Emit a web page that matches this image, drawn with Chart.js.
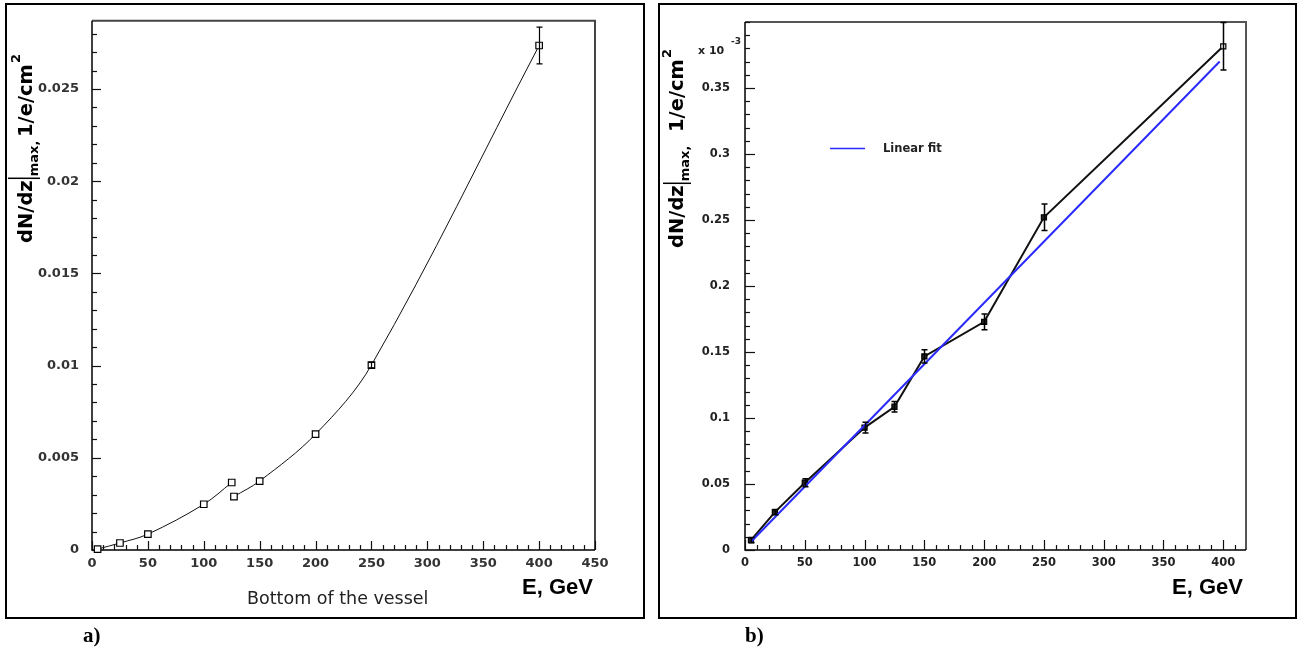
<!DOCTYPE html>
<html><head><meta charset="utf-8">
<script src="https://cdn.jsdelivr.net/npm/chart.js@4.4.1/dist/chart.umd.min.js"></script>
<style>
html,body{margin:0;padding:0;background:#fff;}
#page{position:relative;width:1298px;height:650px;overflow:hidden;background:#fff;}
.frame{position:absolute;box-sizing:border-box;border:2px solid #000;}
canvas{position:absolute;top:0;}
.tag{position:absolute;font-family:"Liberation Serif",serif;font-weight:bold;font-size:21px;line-height:1;color:#000;}
</style></head><body>
<div id="page">
<div class="frame" style="left:5px;top:3px;width:640px;height:616px"></div>
<div class="frame" style="left:658px;top:3px;width:639px;height:616px"></div>
<canvas id="ca" width="650" height="650" style="left:0"></canvas>
<canvas id="cb" width="648" height="650" style="left:650px"></canvas>
<div class="tag" style="left:83px;top:625px">a)</div>
<div class="tag" style="left:745px;top:625px">b)</div>
</div>
<script>
// ---------- Panel a) data ----------
const energyA1 = [5, 25, 50, 100, 125];
const densityA1 = [0.00005, 0.00038, 0.00086, 0.00248, 0.00366];
const energyA2 = [127, 150, 200, 250, 400];
const densityA2 = [0.0029, 0.00374, 0.00628, 0.01003, 0.02736];
const errorA2 = [0, 0, 0, 0.00015, 0.001];
const xTicksA = [0, 50, 100, 150, 200, 250, 300, 350, 400, 450];
const xTickLabelsA = ['0','50','100','150','200','250','300','350','400','450'];
const yTicksA = [0, 0.005, 0.01, 0.015, 0.02, 0.025];
const yTickLabelsA = ['0','0.005','0.01','0.015','0.02','0.025'];

// ---------- Panel b) data (units of 10^-3) ----------
const energyB = [5, 25, 50, 100, 125, 150, 200, 250, 400];
const densityB = [0.0075, 0.0287, 0.051, 0.0927, 0.1085, 0.1466, 0.1728, 0.252, 0.3815];
const errorB = [0.002, 0.002, 0.003, 0.004, 0.004, 0.005, 0.006, 0.010, 0.018];
const fitEnergyB = [5, 397];
const fitDensityB = [0.0062, 0.370];
const xTicksB = [0, 50, 100, 150, 200, 250, 300, 350, 400];
const xTickLabelsB = ['0','50','100','150','200','250','300','350','400'];
const yTicksB = [0, 0.05, 0.1, 0.15, 0.2, 0.25, 0.3, 0.35];
const yTickLabelsB = ['0','0.05','0.1','0.15','0.2','0.25','0.3','0.35'];

Chart.defaults.font.family = '"DejaVu Sans", sans-serif';

function pts(xs, ys){ return xs.map((v,i)=>({x:v, y:ys[i]})); }

function makeAxesPlugin(cfg){
  return {
    id: 'rootAxes',
    beforeDatasetsDraw(chart){
      const {ctx, chartArea:a, scales:{x, y}} = chart;
      ctx.save();
      ctx.strokeStyle = cfg.frameColor; ctx.lineWidth = 2;
      ctx.beginPath(); ctx.moveTo(a.left, a.top); ctx.lineTo(a.right, a.top); ctx.lineTo(a.right, a.bottom); ctx.stroke();
      ctx.strokeStyle = '#000'; ctx.lineWidth = 1.5;
      ctx.beginPath(); ctx.moveTo(a.left, a.top); ctx.lineTo(a.left, a.bottom); ctx.lineTo(a.right, a.bottom); ctx.stroke();
      ctx.lineWidth = 1.2; ctx.strokeStyle = '#111';
      const nx = Math.floor((x.max - x.min)/cfg.xMinor + 1e-6);
      for (let i = 0; i <= nx; i++){
        const v = x.min + i*cfg.xMinor;
        const major = cfg.xMajor.some(m => Math.abs(m - v) < 1e-9);
        const px = Math.round(x.getPixelForValue(v)) + 0.5;
        const len = major ? cfg.majLen : cfg.minLen;
        ctx.beginPath(); ctx.moveTo(px, a.bottom); ctx.lineTo(px, a.bottom - len); ctx.stroke();
      }
      const ny = Math.floor((y.max - y.min)/cfg.yMinor + 1e-6);
      for (let i = 0; i <= ny; i++){
        const v = y.min + i*cfg.yMinor;
        const major = cfg.yMajor.some(m => Math.abs(m - v) < cfg.yMinor*1e-3);
        const py = Math.round(y.getPixelForValue(v)) + 0.5;
        const len = major ? cfg.majLen : cfg.minLen;
        ctx.beginPath(); ctx.moveTo(a.left, py); ctx.lineTo(a.left + len, py); ctx.stroke();
      }
      ctx.restore();
    }
  };
}

const errorBarsPlugin = {
  id: 'errorBars',
  afterDatasetsDraw(chart){
    const {ctx, scales:{y}} = chart;
    chart.data.datasets.forEach((ds, di) => {
      if (!ds.errorBars) return;
      const meta = chart.getDatasetMeta(di);
      ctx.save();
      ctx.strokeStyle = ds.errorColor || '#000';
      ctx.lineWidth = ds.errorWidth || 1;
      meta.data.forEach((el, i) => {
        const e = ds.errorBars[i];
        if (!e) return;
        const yv = ds.data[i].y;
        const t = y.getPixelForValue(yv + e), b = y.getPixelForValue(yv - e);
        const cx = Math.round(el.x) + 0.5, cap = 3;
        ctx.beginPath();
        ctx.moveTo(cx, t); ctx.lineTo(cx, b);
        ctx.moveTo(cx - cap, t); ctx.lineTo(cx + cap, t);
        ctx.moveTo(cx - cap, b); ctx.lineTo(cx + cap, b);
        ctx.stroke();
      });
      ctx.restore();
    });
  }
};

function drawYTitle(ctx, bx, by, c){
  ctx.save();
  ctx.translate(bx, by);
  ctx.rotate(-Math.PI/2);
  ctx.fillStyle = '#000'; ctx.strokeStyle = '#000';
  ctx.textBaseline = 'alphabetic'; ctx.textAlign = 'left';
  const big = 'bold 19.5px "DejaVu Sans"', small = 'bold 13px "DejaVu Sans"';
  ctx.font = big;
  ctx.fillText('dN/dz', 0, 0);
  const w = ctx.measureText('dN/dz').width;
  ctx.lineWidth = 1.5;
  ctx.beginPath(); ctx.moveTo(w + 2, c.barTop); ctx.lineTo(w + 2, c.barBottom); ctx.stroke();
  ctx.font = small;
  ctx.fillText('max,', w + 4, 6);
  ctx.font = big;
  ctx.fillText('1/e/cm', c.unitX, 0);
  const w2 = ctx.measureText('1/e/cm').width;
  ctx.font = small;
  ctx.fillText('2', c.unitX + w2 + 1, -12);
  ctx.restore();
}

function commonScales(xMin, xMax, yMin, yMax, xt, xl, yt, yl, yPad, yW, fontW, color){
  return {
    x: {
      type: 'linear', min: xMin, max: xMax,
      afterFit(s){ s.height = 100; },
      afterBuildTicks(s){ s.ticks = xt.map(v => ({value: v})); },
      grid: {display: false, drawTicks: false}, border: {display: false},
      ticks: {padding: 6, autoSkip: false, maxRotation: 0, color: color,
        font: {size: fontW.size, weight: fontW.weight}, callback: (v, i) => xl[i]}
    },
    y: {
      type: 'linear', min: yMin, max: yMax,
      afterFit(s){ s.width = yW; },
      afterBuildTicks(s){ s.ticks = yt.map(v => ({value: v})); },
      grid: {display: false, drawTicks: false}, border: {display: false},
      ticks: {padding: yPad, autoSkip: false, color: color,
        font: {size: fontW.size, weight: fontW.weight}, callback: (v, i) => yl[i]}
    }
  };
}

// ---------- Chart a) ----------
const lineA = {
  showLine: true, borderColor: '#111', borderWidth: 1, tension: 0.35,
  pointStyle: 'rect', pointRadius: 4.6, pointBorderWidth: 1.2,
  pointBorderColor: '#000', pointBackgroundColor: '#fff', clip: false
};
new Chart(document.getElementById('ca'), {
  type: 'scatter',
  data: { datasets: [
    Object.assign({data: pts(energyA1, densityA1)}, lineA),
    Object.assign({data: pts(energyA2, densityA2), errorBars: errorA2, errorWidth: 1.2}, lineA)
  ]},
  options: {
    responsive: false, animation: false, events: [],
    layout: {padding: {left: 0, top: 15, right: 55, bottom: 0}},
    plugins: {legend: {display: false}, tooltip: {enabled: false}},
    scales: commonScales(0, 450, 0, 0.0287, xTicksA, xTickLabelsA, yTicksA, yTickLabelsA, 13, 92,
      {size: 13, weight: 'bold'}, '#333')
  },
  plugins: [
    makeAxesPlugin({frameColor: '#444', xMinor: 10, xMajor: xTicksA, yMinor: 0.001, yMajor: yTicksA, majLen: 9, minLen: 5}),
    errorBarsPlugin,
    { id: 'textA', afterDraw(chart){
        const ctx = chart.ctx;
        drawYTitle(ctx, 32, 243, {barTop: -24, barBottom: 8, unitX: 106});
        ctx.save();
        ctx.fillStyle = '#000';
        ctx.textBaseline = 'middle'; ctx.textAlign = 'left';
        ctx.font = 'bold 22px "Liberation Sans"';
        ctx.fillText('E, GeV', 522, 588);
        ctx.fillStyle = '#222';
        ctx.font = '17.5px "DejaVu Sans"';
        ctx.fillText('Bottom of the vessel', 247, 599);
        ctx.restore();
    }}
  ]
});

// ---------- Chart b) ----------
new Chart(document.getElementById('cb'), {
  type: 'scatter',
  data: { datasets: [
    { data: pts(fitEnergyB, fitDensityB), showLine: true, borderColor: '#2a2aff', borderWidth: 2,
      pointRadius: 0, clip: false },
    { data: pts(energyB, densityB), showLine: true, borderColor: '#111', borderWidth: 2,
      pointStyle: 'rect', pointRadius: 3.6, pointBorderWidth: 1.2, pointBorderColor: '#000',
      pointBackgroundColor: energyB.map((e, i) => i === energyB.length - 1 ? '#fff' : '#222'),
      errorBars: errorB, errorWidth: 1.5, clip: false }
  ]},
  options: {
    responsive: false, animation: false, events: [],
    layout: {padding: {left: 0, top: 16, right: 52, bottom: 0}},
    plugins: {legend: {display: false}, tooltip: {enabled: false}},
    scales: commonScales(0, 419, 0, 0.4, xTicksB, xTickLabelsB, yTicksB, yTickLabelsB, 15, 95,
      {size: 11.5, weight: 'bold'}, '#222')
  },
  plugins: [
    makeAxesPlugin({frameColor: '#555', xMinor: 10, xMajor: xTicksB, yMinor: 0.01, yMajor: yTicksB, majLen: 10, minLen: 5}),
    errorBarsPlugin,
    { id: 'textB', afterDraw(chart){
        const ctx = chart.ctx;
        drawYTitle(ctx, 33, 248, {barTop: -20, barBottom: 8, unitX: 116});
        ctx.save();
        ctx.fillStyle = '#000';
        ctx.textBaseline = 'middle'; ctx.textAlign = 'left';
        ctx.font = 'bold 22px "Liberation Sans"';
        ctx.fillText('E, GeV', 522, 588);
        // exponent label
        ctx.fillStyle = '#222';
        ctx.textBaseline = 'alphabetic';
        ctx.font = 'bold 11px "DejaVu Sans"';
        ctx.fillText('x 10', 48, 54);
        ctx.font = 'bold 9px "DejaVu Sans"';
        ctx.fillText('-3', 81, 44);
        // legend
        ctx.strokeStyle = '#2a2aff'; ctx.lineWidth = 1.5;
        ctx.beginPath(); ctx.moveTo(180, 148.5); ctx.lineTo(215, 148.5); ctx.stroke();
        ctx.fillStyle = '#222';
        ctx.textBaseline = 'middle';
        ctx.font = 'bold 11.5px "DejaVu Sans"';
        ctx.fillText('Linear fit', 233, 149);
        ctx.restore();
    }}
  ]
});
</script>
</body></html>
